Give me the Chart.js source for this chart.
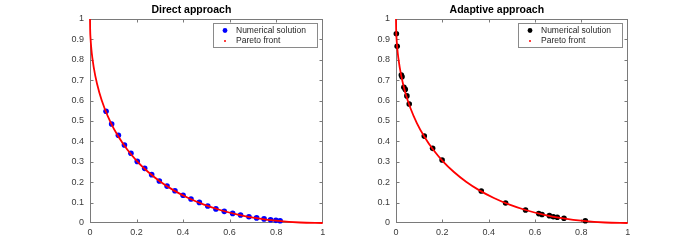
<!DOCTYPE html>
<html>
<head>
<meta charset="UTF-8">
<title>Pareto fronts</title>
<style type="text/css">
    body {
        background-color: #ffffff;
        margin: 0;
        padding: 0;
    }
    #wrap {
        position: relative;
        width: 695px;
        height: 251px;
    }
    canvas {
        position: absolute;
        top: 0;
    }
    #leftChart { left: 0; }
    #rightChart { left: 347px; }
</style>
<script src="https://cdn.jsdelivr.net/npm/chart.js@4.4.0/dist/chart.umd.min.js"></script>
<script type="text/javascript">
// chart data
var titles = ['Direct approach', 'Adaptive approach'];
var seriesNames = ['Numerical solution', 'Pareto front'];

var xTickValues = [0, 0.2, 0.4, 0.6, 0.8, 1];
var xTickLabels = ['0', '0.2', '0.4', '0.6', '0.8', '1'];
var yTickValues = [0, 0.1, 0.2, 0.3, 0.4, 0.5, 0.6, 0.7, 0.8, 0.9, 1];
var yTickLabels = ['0', '0.1', '0.2', '0.3', '0.4', '0.5', '0.6', '0.7', '0.8', '0.9', '1'];

var directX = [0.069, 0.093, 0.122, 0.148, 0.176, 0.203, 0.235, 0.265, 0.298, 0.331, 0.365, 0.400,
               0.434, 0.470, 0.506, 0.541, 0.577, 0.613, 0.647, 0.683, 0.716, 0.748, 0.776, 0.799, 0.817];
var directY = [0.548, 0.485, 0.430, 0.382, 0.342, 0.302, 0.268, 0.237, 0.206, 0.181, 0.158, 0.136,
               0.118, 0.101, 0.083, 0.069, 0.057, 0.047, 0.039, 0.031, 0.025, 0.020, 0.016, 0.013, 0.011];

var adaptiveX = [0.0015, 0.005, 0.023, 0.026, 0.034, 0.040, 0.047, 0.057, 0.122, 0.158, 0.199,
                 0.368, 0.473, 0.559, 0.616, 0.630, 0.662, 0.679, 0.696, 0.725, 0.817];
var adaptiveY = [0.928, 0.866, 0.725, 0.717, 0.665, 0.655, 0.623, 0.583, 0.426, 0.366, 0.309,
                 0.157, 0.098, 0.064, 0.046, 0.042, 0.036, 0.031, 0.028, 0.023, 0.011];

var paretoX = [0, 0.000625, 0.0025, 0.005625, 0.01, 0.0225, 0.04, 0.0625, 0.09, 0.1225, 0.16, 0.2025,
               0.25, 0.3025, 0.36, 0.4225, 0.49, 0.5625, 0.64, 0.7225, 0.81, 0.9025, 1];
var paretoY = [1, 0.9506, 0.9025, 0.8556, 0.81, 0.7225, 0.64, 0.5625, 0.49, 0.4225, 0.36, 0.3025,
               0.25, 0.2025, 0.16, 0.1225, 0.09, 0.0625, 0.04, 0.0225, 0.01, 0.0025, 0];

var FONT = '"Liberation Sans", Arial, sans-serif';
var AXIS_COLOR = '#7a7a7a';

function toPoints(xs, ys) {
    var pts = [];
    for (var i = 0; i < xs.length; i++) {
        pts.push({ x: xs[i], y: ys[i] });
    }
    return pts;
}

// box round the plot with short inward ticks on all four sides, matlab style
var boxPlugin = {
    id: 'boxTicks',
    beforeDatasetsDraw: function (chart) {
        var ctx = chart.ctx;
        var a = chart.chartArea;
        var xs = chart.scales.x, ys = chart.scales.y;
        var L = Math.round(a.left) + 0.5, R = Math.round(a.right) - 0.5;
        var T = Math.round(a.top) + 0.5, B = Math.round(a.bottom) - 0.5;
        ctx.save();
        ctx.strokeStyle = AXIS_COLOR;
        ctx.lineWidth = 1;
        ctx.strokeRect(L, T, R - L, B - T);
        ctx.beginPath();
        for (var i = 1; i < xTickValues.length - 1; i++) {
            var px = Math.round(xs.getPixelForValue(xTickValues[i])) + 0.5;
            ctx.moveTo(px, B); ctx.lineTo(px, B - 3);
            ctx.moveTo(px, T); ctx.lineTo(px, T + 3);
        }
        for (var j = 1; j < yTickValues.length - 1; j++) {
            var py = Math.round(ys.getPixelForValue(yTickValues[j])) + 0.5;
            ctx.moveTo(L, py); ctx.lineTo(L + 3, py);
            ctx.moveTo(R, py); ctx.lineTo(R - 3, py);
        }
        ctx.stroke();
        ctx.restore();
    }
};

// legend box in the upper right corner of the plot
var legendPlugin = {
    id: 'boxLegend',
    afterDraw: function (chart, args, opts) {
        var ctx = chart.ctx;
        var a = chart.chartArea;
        ctx.save();
        ctx.font = '8.5px ' + FONT;
        var tw = ctx.measureText(seriesNames[0]).width;
        var w = Math.round(23 + tw + 11);
        var h = 24;
        var bx = Math.round(a.right - 6 - w) + 0.5;
        var by = Math.round(a.top + 4) + 0.5;
        ctx.fillStyle = '#ffffff';
        ctx.fillRect(bx, by, w, h);
        ctx.strokeStyle = '#8a8a8a';
        ctx.lineWidth = 1;
        ctx.strokeRect(bx, by, w, h);

        ctx.fillStyle = opts.pointColor;
        ctx.beginPath();
        ctx.arc(bx + 11.5, by + 7, 2.4, 0, Math.PI * 2);
        ctx.fill();
        ctx.fillStyle = '#ff0000';
        ctx.beginPath();
        ctx.arc(bx + 11.5, by + 17.5, 1, 0, Math.PI * 2);
        ctx.fill();

        ctx.fillStyle = '#262626';
        ctx.textBaseline = 'middle';
        ctx.textAlign = 'left';
        ctx.fillText(seriesNames[0], bx + 22.5, by + 7);
        ctx.fillText(seriesNames[1], bx + 22.5, by + 17.5);
        ctx.restore();
    }
};

function drawPanel(canvasId, title, xs, ys, pointColor, padLeft, padRight) {
    var ctx = document.getElementById(canvasId).getContext('2d');
    return new Chart(ctx, {
        type: 'scatter',
        data: {
            datasets: [{
                label: seriesNames[0],
                data: toPoints(xs, ys),
                backgroundColor: pointColor,
                borderColor: pointColor,
                borderWidth: 0,
                pointRadius: 2.8,
                clip: 5,
                order: 1
            }, {
                type: 'line',
                label: seriesNames[1],
                data: toPoints(paretoX, paretoY),
                borderColor: '#ff0000',
                borderWidth: 1.8,
                pointRadius: 0,
                fill: false,
                cubicInterpolationMode: 'monotone',
                clip: 3,
                order: 0
            }]
        },
        options: {
            responsive: false,
            animation: false,
            devicePixelRatio: 1,
            layout: { padding: { left: padLeft, right: padRight, top: 0, bottom: 0 } },
            scales: {
                x: {
                    type: 'linear',
                    min: 0,
                    max: 1,
                    grid: { display: false, drawTicks: false },
                    border: { display: false },
                    afterBuildTicks: function (scale) {
                        scale.ticks = xTickValues.map(function (v) { return { value: v }; });
                    },
                    afterFit: function (scale) { scale.height = 28; },
                    ticks: {
                        padding: 4,
                        maxRotation: 0,
                        color: '#3a3a3a',
                        font: { family: FONT, size: 9 },
                        callback: function (value, index) { return xTickLabels[index]; }
                    }
                },
                y: {
                    type: 'linear',
                    min: 0,
                    max: 1,
                    grid: { display: false, drawTicks: false },
                    border: { display: false },
                    afterBuildTicks: function (scale) {
                        scale.ticks = yTickValues.map(function (v) { return { value: v }; });
                    },
                    afterFit: function (scale) { scale.width = 30; },
                    ticks: {
                        padding: 6,
                        color: '#3a3a3a',
                        font: { family: FONT, size: 9 },
                        callback: function (value, index) { return yTickLabels[index]; }
                    }
                }
            },
            plugins: {
                legend: { display: false },
                tooltip: { enabled: false },
                title: {
                    display: true,
                    text: title,
                    color: '#000000',
                    font: { family: FONT, size: 10.5, weight: 'bold', lineHeight: 1.2 },
                    padding: { top: 4, bottom: 2.4 }
                },
                boxLegend: { pointColor: pointColor }
            }
        },
        plugins: [boxPlugin, legendPlugin]
    });
}

document.addEventListener("DOMContentLoaded", function () {
    drawPanel('leftChart', titles[0], directX, directY, '#0000ff', 60, 24.3);
    drawPanel('rightChart', titles[1], adaptiveX, adaptiveY, '#000000', 19, 67.3);
});
</script>
</head>
<body>
    <div id="wrap">
        <canvas id="leftChart" width="347" height="251"></canvas>
        <canvas id="rightChart" width="348" height="251"></canvas>
    </div>
</body>
</html>
